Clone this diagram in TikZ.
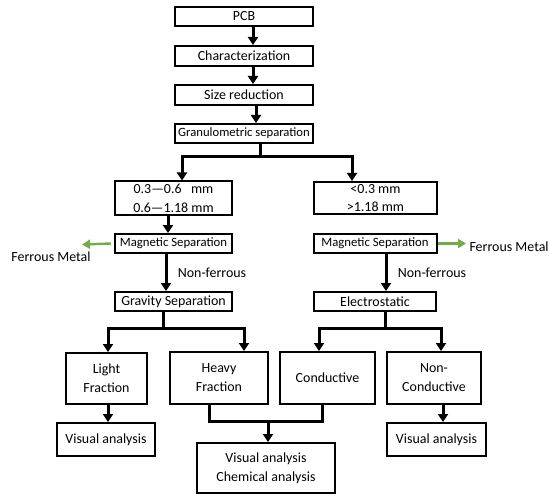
\documentclass[tikz,border=0pt]{standalone}
\usepackage{fontspec}
\setmainfont{Carlito}
\usetikzlibrary{arrows.meta,positioning,calc}
\definecolor{ferro}{RGB}{112,173,71}

\begin{document}
\begin{tikzpicture}[x=1bp,y=-1bp,
    box/.style={draw,line width=2bp,inner sep=0pt,align=center,font=\fontsize{14}{19}\selectfont},
    flow/.style={line width=3bp,-{Triangle[length=8bp,width=10bp]}},
    ferrous/.style={ferro,line width=2.4bp,-{Triangle[length=8bp,width=9bp]}}]
    \useasboundingbox (0,0) rectangle (550,500);

    % main line
    \node[box,minimum width=138bp,minimum height=19bp] (PCB) at (244,16.5) {PCB};
    \node[box,minimum width=138bp,minimum height=20bp] (Char) at (244,56) {Characterization};
    \node[box,minimum width=138bp,minimum height=20bp] (Size) at (244,95) {Size reduction};
    \node[box,minimum width=138bp,minimum height=19bp,font=\fontsize{12.7}{15}\selectfont] (Gran) at (244,133.5) {Granulometric separation};
    \draw[flow] (PCB.south -| 253,0) -- (Char.north -| 253,0);
    \draw[flow] (Char.south -| 253,0) -- (Size.north -| 253,0);
    \draw[flow] (Size.south -| 256,0) -- (Gran.north -| 256,0);

    % size fractions
    \node[box,minimum width=117bp,minimum height=33bp] (Sz1) at (173.5,198) {0.3---0.6\ \ \ mm\\0.6---1.18 mm};
    \node[box,minimum width=123bp,minimum height=32bp] (Sz2) at (375.5,198) {<0.3 mm\\>1.18 mm};
    \coordinate (G0) at (260,157);
    \coordinate (GL) at (182,157);
    \coordinate (GR) at (352,157);
    \draw[flow] (Gran.south -| G0) -- (G0) -| (Sz1.north -| GL);
    \draw[flow] (G0) -| (Sz2.north -| GR);

    % magnetic separation
    \node[box,minimum width=117bp,minimum height=19bp,font=\fontsize{12.8}{15}\selectfont] (Mag1) at (173.5,243.5) {Magnetic Separation};
    \node[box,minimum width=123bp,minimum height=19bp,font=\fontsize{12.8}{15}\selectfont] (Mag2) at (375,243.5) {Magnetic Separation};
    \draw[flow] (Sz1.south -| 168,0) -- (Mag1.north -| 168,0);
    \node[font=\fontsize{14}{16}\selectfont] (Fe1) at (51,257) {Ferrous Metal};
    \node[font=\fontsize{14}{16}\selectfont,anchor=west] (Fe2) at (466,247) {Ferrous Metal};
    \coordinate (F1) at (82,244.5);
    \draw[ferrous] ([xshift=-3bp]Mag1.west) -- (F1);
    \draw[ferrous] (Mag2.east) -- (Fe2.west |- Mag2.east);

    \node[box,minimum width=117bp,minimum height=19bp] (Grav) at (173.5,301.5) {Gravity Separation};
    \node[box,minimum width=122bp,minimum height=19bp] (Elec) at (375,301.5) {Electrostatic};
    \draw[flow] (Mag1.south -| 166,0) -- (Grav.north -| 166,0) node[midway,right=7bp,font=\fontsize{14}{16}\selectfont] (NF1) {Non-ferrous};
    \draw[flow] (Mag2.south -| 386,0) -- (Elec.north -| 386,0) node[midway,right=7bp,font=\fontsize{14}{16}\selectfont] (NF2) {Non-ferrous};

    % fractions
    \node[box,minimum width=81bp,minimum height=51bp] (Lf) at (106.5,378.5) {Light\\Fraction};
    \node[box,minimum width=98bp,minimum height=52bp] (Hf) at (219,378) {Heavy\\Fraction};
    \node[box,minimum width=95bp,minimum height=52bp] (Cond) at (327.5,378) {Conductive};
    \node[box,minimum width=94bp,minimum height=52bp] (NCond) at (434,378) {Non-\\Conductive};
    \coordinate (V1) at (163,328);
    \coordinate (V2) at (385,328);
    \draw[flow] (Grav.south -| V1) -- (V1) -| (Lf.north -| 108,0);
    \draw[flow] (V1) -| (Hf.north -| 244,0);
    \draw[flow] (Elec.south -| V2) -- (V2) -| (Cond.north -| 319,0);
    \draw[flow] (V2) -| (NCond.north -| 441,0);

    % analysis
    \node[box,minimum width=98bp,minimum height=33bp] (Vis1) at (106,439.5) {Visual analysis};
    \node[box,minimum width=138bp,minimum height=50bp] (Vis2) at (266,468) {Visual analysis\\Chemical analysis};
    \node[box,minimum width=99bp,minimum height=33bp] (Vis3) at (436.5,439.5) {Visual analysis};
    \draw[flow] (Lf.south -| 108,0) -- (Vis1.north -| 108,0);
    \draw[flow] (NCond.south -| 443,0) -- (Vis3.north -| 443,0);
    \coordinate (H1) at (209,421);
    \coordinate (C1) at (322,421);
    \draw[line width=3bp] (Hf.south -| H1) -- (H1) -- (C1) -- (Cond.south -| C1);
    \draw[flow] (268,421) -- (Vis2.north -| 268,0);
\end{tikzpicture}
\end{document}
